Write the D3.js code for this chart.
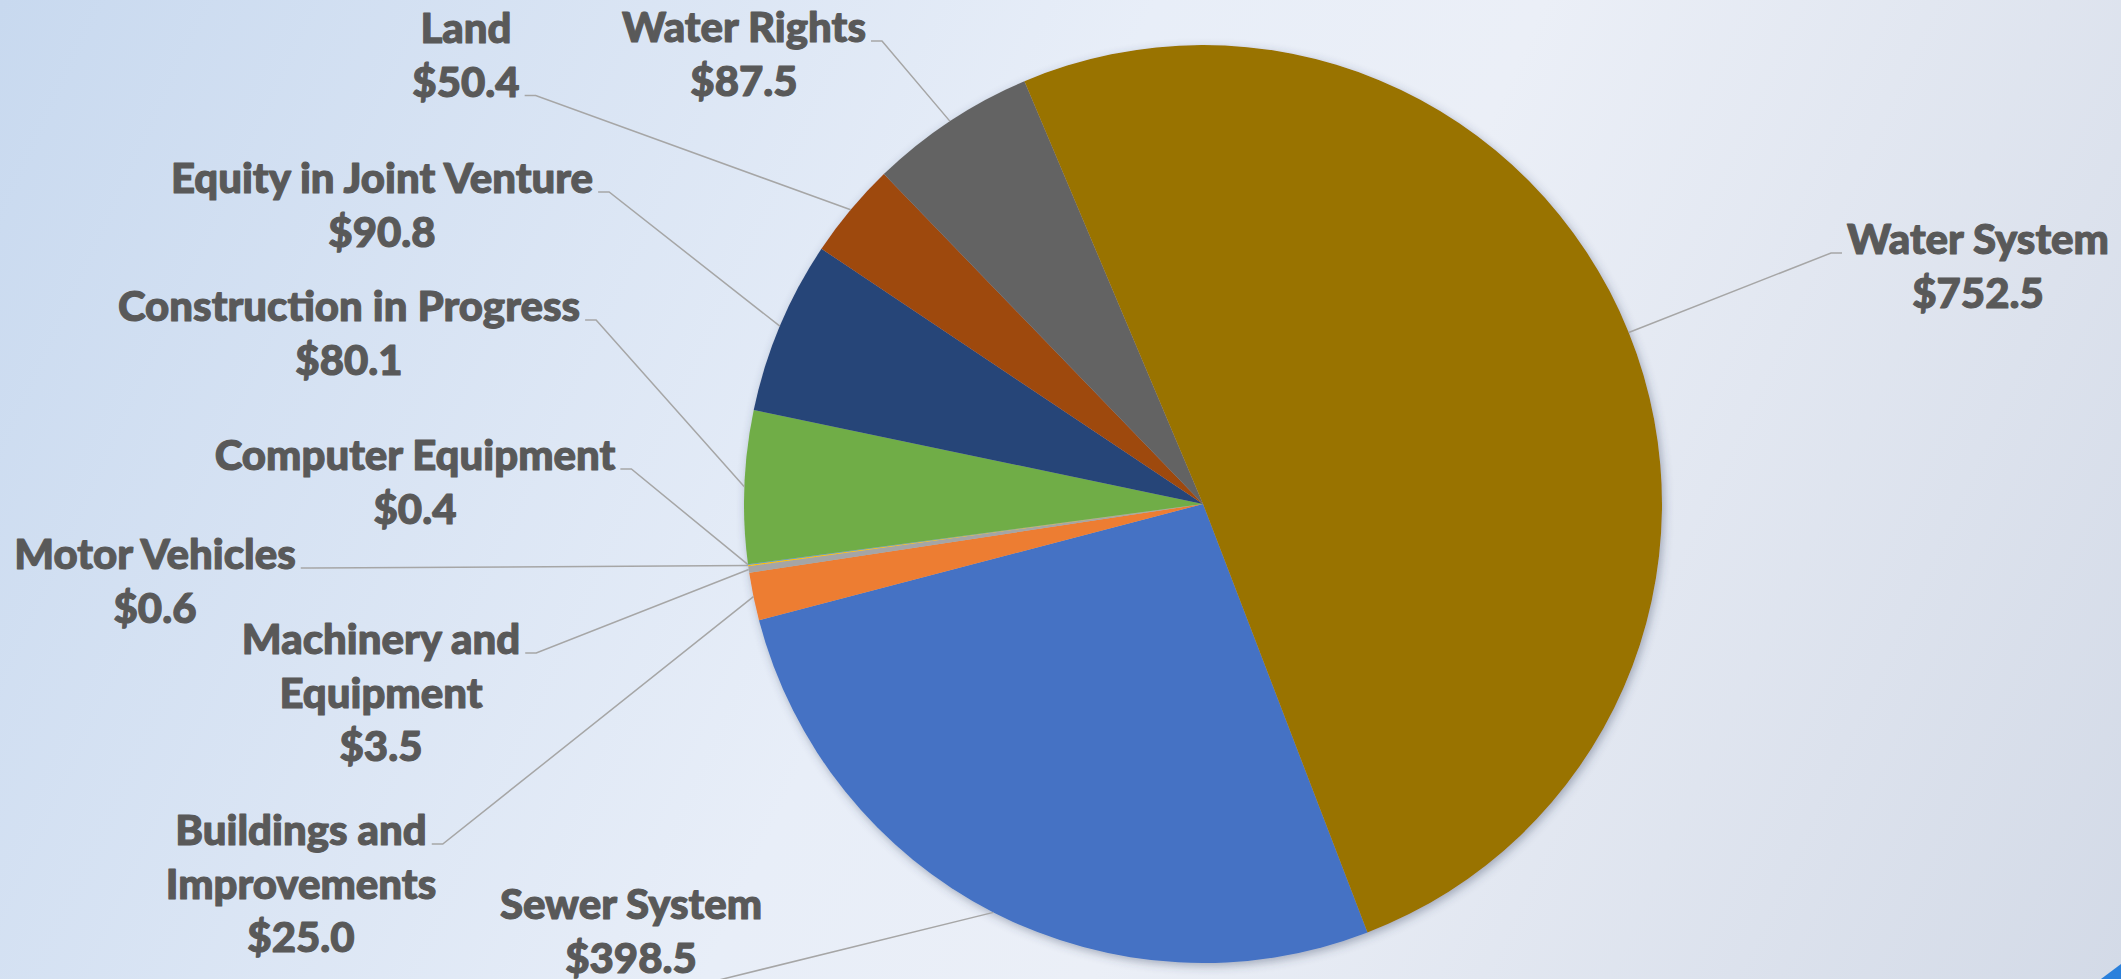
<!DOCTYPE html>
<html>
<head>
<meta charset="utf-8">
<script src="https://cdn.jsdelivr.net/npm/d3@7"></script>
<style>
  html, body { margin: 0; padding: 0; overflow: hidden; background: #e8edf6; }
  svg { display: block; }
</style>
</head>
<body>
<script>
// Capital assets by category (millions of dollars), in series order
const categories = [
  "Sewer System",
  "Buildings and Improvements",
  "Machinery and Equipment",
  "Motor Vehicles",
  "Computer Equipment",
  "Construction in Progress",
  "Equity in Joint Venture",
  "Land",
  "Water Rights",
  "Water System"
];
const values = [398.5, 25.0, 3.5, 0.6, 0.4, 80.1, 90.8, 50.4, 87.5, 752.5];
const sliceColors = [
  "#4472C4", "#ED7D31", "#A5A5A5", "#FFC000", "#5B9BD5",
  "#70AD47", "#264478", "#9E480E", "#636363", "#997300"
];

const W = 2121, H = 979;
const cx = 1203, cy = 504, radius = 459;
const firstSliceAngle = 159 * Math.PI / 180;

// Label placement: centre x, first baseline, which line carries the leader, side of leader
const labelLayout = {
  "Water System":               { x: 1978, y: 254, anchorLine: 0, side: "left" },
  "Water Rights":               { x: 744,  y: 42,  anchorLine: 0, side: "right" },
  "Land":                       { x: 466,  y: 43,  anchorLine: 1, side: "right" },
  "Equity in Joint Venture":    { x: 382,  y: 193, anchorLine: 0, side: "right" },
  "Construction in Progress":   { x: 349,  y: 321, anchorLine: 0, side: "right" },
  "Computer Equipment":         { x: 415,  y: 470, anchorLine: 0, side: "right" },
  "Motor Vehicles":             { x: 155,  y: 569, anchorLine: 0, side: "right" },
  "Machinery and Equipment":    { x: 381,  y: 654, anchorLine: 0, side: "right", breakAfter: "and" },
  "Buildings and Improvements": { x: 301,  y: 845, anchorLine: 0, side: "right", breakAfter: "and" },
  "Sewer System":               { x: 631,  y: 919, anchorLine: 1, side: "right", drop: 10 }
};
const lineStep = 53.5;

const fmt = d3.format("$,.1f");

const svg = d3.select("body").append("svg")
  .attr("width", W).attr("height", H);

const defs = svg.append("defs");
const bg = defs.append("linearGradient")
  .attr("id", "bg").attr("gradientUnits", "userSpaceOnUse")
  .attr("x1", 0).attr("y1", 0).attr("x2", W).attr("y2", H);
bg.append("stop").attr("offset", "0").attr("stop-color", "#c8d9ef");
bg.append("stop").attr("offset", "0.45").attr("stop-color", "#e8eef8");
bg.append("stop").attr("offset", "0.6").attr("stop-color", "#ebeff7");
bg.append("stop").attr("offset", "1").attr("stop-color", "#d3dae7");

const shadow = defs.append("filter").attr("id", "pieShadow")
  .attr("x", "-10%").attr("y", "-10%").attr("width", "120%").attr("height", "120%");
shadow.append("feDropShadow")
  .attr("dx", 2).attr("dy", 3).attr("stdDeviation", 5)
  .attr("flood-color", "#39455e").attr("flood-opacity", 0.4);

svg.append("rect").attr("width", W).attr("height", H).attr("fill", "url(#bg)");

// accent triangle in the lower right corner
svg.append("path")
  .attr("d", `M${W - 20},${H} L${W},${H - 15} L${W},${H} Z`)
  .attr("fill", "#2a80dc");

const data = categories.map((c, i) => ({ name: c, value: values[i], color: sliceColors[i] }));

const pie = d3.pie().sort(null).value(d => d.value)
  .startAngle(firstSliceAngle).endAngle(firstSliceAngle + 2 * Math.PI);
const arcs = pie(data);
const arc = d3.arc().innerRadius(0).outerRadius(radius);

const g = svg.append("g").attr("transform", `translate(${cx},${cy})`);
g.append("g").attr("filter", "url(#pieShadow)")
  .selectAll("path").data(arcs).join("path")
  .attr("d", arc)
  .attr("fill", d => d.data.color);

// Labels and leader lines
const labelG = svg.append("g")
  .attr("font-family", "Lato, 'Open Sans', sans-serif")
  .attr("font-weight", 900)
  .attr("fill", "#595959")
  .attr("stroke", "#595959")
  .attr("stroke-width", 1.1)
  .attr("stroke-linejoin", "round")
  .attr("text-anchor", "middle");

// scale the label type so that "Water System" is 264px wide
const probe = labelG.append("text").attr("font-size", 40).text("Water System");
const probeW = probe.node().getComputedTextLength();
probe.remove();
const fontSize = 40 * 262 / probeW;
labelG.attr("font-size", fontSize);

const leaderG = svg.append("g")
  .attr("fill", "none").attr("stroke", "#a6a6a6").attr("stroke-width", 1.5);

arcs.forEach(a => {
  const d = a.data;
  const L = labelLayout[d.name];
  let lines;
  if (L.breakAfter) {
    const k = d.name.indexOf(" " + L.breakAfter + " ") + L.breakAfter.length + 1;
    lines = [d.name.slice(0, k), d.name.slice(k + 1)];
  } else {
    lines = [d.name];
  }
  lines.push(fmt(d.value));

  const t = labelG.append("text");
  const tspans = lines.map((ln, i) =>
    t.append("tspan").attr("x", L.x).attr("y", L.y + i * lineStep).text(ln));

  const wLine = tspans[L.anchorLine].node().getComputedTextLength();
  const ay = L.y + L.anchorLine * lineStep - 1 + (L.drop || 0);
  const dir = L.side === "right" ? 1 : -1;
  const x0 = L.x + dir * (wLine / 2 + 5);
  const x1 = x0 + dir * 11;

  const mid = (a.startAngle + a.endAngle) / 2;
  const ex = cx + radius * Math.sin(mid);
  const ey = cy - radius * Math.cos(mid);

  leaderG.append("path").attr("d", `M${x0},${ay} L${x1},${ay} L${ex},${ey}`);
});
</script>
</body>
</html>
